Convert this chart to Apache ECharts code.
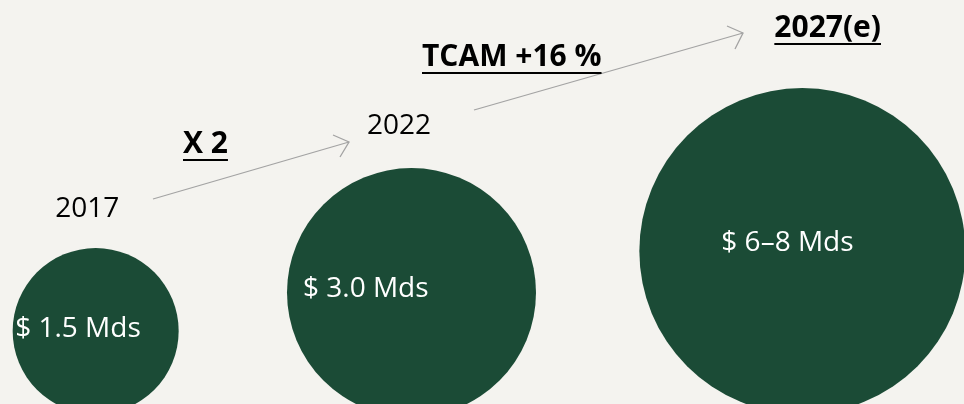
<!DOCTYPE html>
<html>
<head>
<meta charset="utf-8">
<script src="https://cdn.jsdelivr.net/npm/echarts@6/dist/echarts.min.js"></script>
<style>
  html, body { margin: 0; padding: 0; background: #f4f3ef; }
  #chart { width: 964px; height: 404px; }
</style>
</head>
<body>
<div id="chart"></div>
<script>
// Market size per year, in billions of dollars (low / high estimate)
const years = ['2017', '2022', '2027(e)'];
const marketLow = [1.5, 3.0, 6];
const marketHigh = [1.5, 3.0, 8];
// Growth between consecutive years
const growthNotes = ['X 2', 'TCAM +16 %'];

// Layout of the bubbles and their texts (pixels)
const bubbleSize = [166, 249, 326];
const bubbleShift = [[-65, 0], [-70.5, -2.5], [-1, 0]];
const valueLabelShift = [[-80.5, -2], [-108.5, -3.5], [-81, -7.5]];
const yearLabelShift = [[-40.5, -122], [-44.5, -166.5], [-28, -223]];
const notePos = [[183, 144], [422, 57]];
const arrows = [
  { line: [[153, 199], [349, 142]], head: [[333, 135], [349, 142], [340, 157]] },
  { line: [[474, 110], [743, 33]], head: [[727, 26], [743, 33], [735, 49]] }
];

const FONT = '"Open Sans", "Noto Sans", sans-serif';
const GREEN = '#1b4b36';
const ARROW = '#a3a3a3';

const mid = marketLow.map((lo, i) => (lo + marketHigh[i]) / 2);
const fmtValue = i => marketLow[i] === marketHigh[i]
  ? '$ ' + marketLow[i].toFixed(1) + ' Mds'
  : '$ ' + marketLow[i] + '\u2013' + marketHigh[i] + ' Mds';

const measure = (() => {
  const ctx = document.createElement('canvas').getContext('2d');
  return (text, font) => { ctx.font = font; return ctx.measureText(text).width; };
})();

const chart = echarts.init(document.getElementById('chart'), null, { renderer: 'canvas' });

const bubbles = years.map((y, i) => ({
  value: [y, mid[i]],
  symbolSize: bubbleSize[i],
  symbolOffset: bubbleShift[i],
  label: { offset: valueLabelShift[i] }
}));

const yearMarks = years.map((y, i) => ({
  value: [y, mid[i]],
  symbolSize: bubbleSize[i],
  symbolOffset: bubbleShift[i],
  label: {
    offset: yearLabelShift[i],
    fontWeight: i === years.length - 1 ? 'bold' : 'normal',
    fontSize: i === years.length - 1 ? 30 : 28
  }
}));

chart.setOption({
  backgroundColor: '#f4f3ef',
  animation: false,
  grid: { left: 0, right: 0, top: 232.5, bottom: 51.9 },
  xAxis: { type: 'category', data: years, boundaryGap: true, show: false },
  yAxis: { type: 'log', logBase: 10, min: 1, max: 10, show: false },
  series: [
    {
      type: 'scatter',
      symbol: 'circle',
      data: bubbles,
      itemStyle: { color: GREEN, opacity: 1 },
      silent: true,
      label: {
        show: true,
        position: 'inside',
        align: 'left',
        verticalAlign: 'middle',
        color: '#ffffff',
        fontFamily: FONT,
        fontSize: 28,
        textBorderWidth: 0,
        formatter: p => fmtValue(p.dataIndex)
      }
    },
    {
      type: 'scatter',
      symbol: 'circle',
      data: yearMarks,
      itemStyle: { color: 'rgba(0,0,0,0)' },
      silent: true,
      z: 3,
      label: {
        show: true,
        position: 'inside',
        align: 'left',
        verticalAlign: 'middle',
        color: '#000000',
        opacity: 1,
        textBorderWidth: 0,
        textBorderColor: 'transparent',
        fontFamily: FONT,
        formatter: p => years[p.dataIndex]
      }
    }
  ]
});

// Growth arrows, notes and underlines
const graphics = [];
arrows.forEach(a => {
  graphics.push({ type: 'polyline', shape: { points: a.line }, style: { stroke: ARROW, lineWidth: 1.3, fill: null }, silent: true });
  graphics.push({ type: 'polyline', shape: { points: a.head }, style: { stroke: ARROW, lineWidth: 1.3, fill: null }, silent: true });
});

const noteFont = 'bold 30px ' + FONT;
growthNotes.forEach((t, i) => {
  const [x, y] = notePos[i];
  graphics.push({
    type: 'text', x: x, y: y, silent: true,
    style: { text: t, font: noteFont, fill: '#000', align: 'left', verticalAlign: 'middle', textAlign: 'left', textVerticalAlign: 'middle' }
  });
  const w = measure(t, noteFont);
  graphics.push({ type: 'line', shape: { x1: x, y1: y + 16, x2: x + w, y2: y + 16 }, style: { stroke: '#000', lineWidth: 2 }, silent: true });
});

// Underline the estimated year
const last = years.length - 1;
const p = chart.convertToPixel({ xAxisIndex: 0, yAxisIndex: 0 }, [years[last], mid[last]]);
const lx = p[0] + bubbleShift[last][0] + yearLabelShift[last][0];
const ly = p[1] + bubbleShift[last][1] + yearLabelShift[last][1];
const lw = measure(years[last], 'bold 30px ' + FONT);
graphics.push({ type: 'line', shape: { x1: lx, y1: ly + 16, x2: lx + lw, y2: ly + 16 }, style: { stroke: '#000', lineWidth: 2 }, silent: true });

chart.setOption({ graphic: graphics });
</script>
</body>
</html>
